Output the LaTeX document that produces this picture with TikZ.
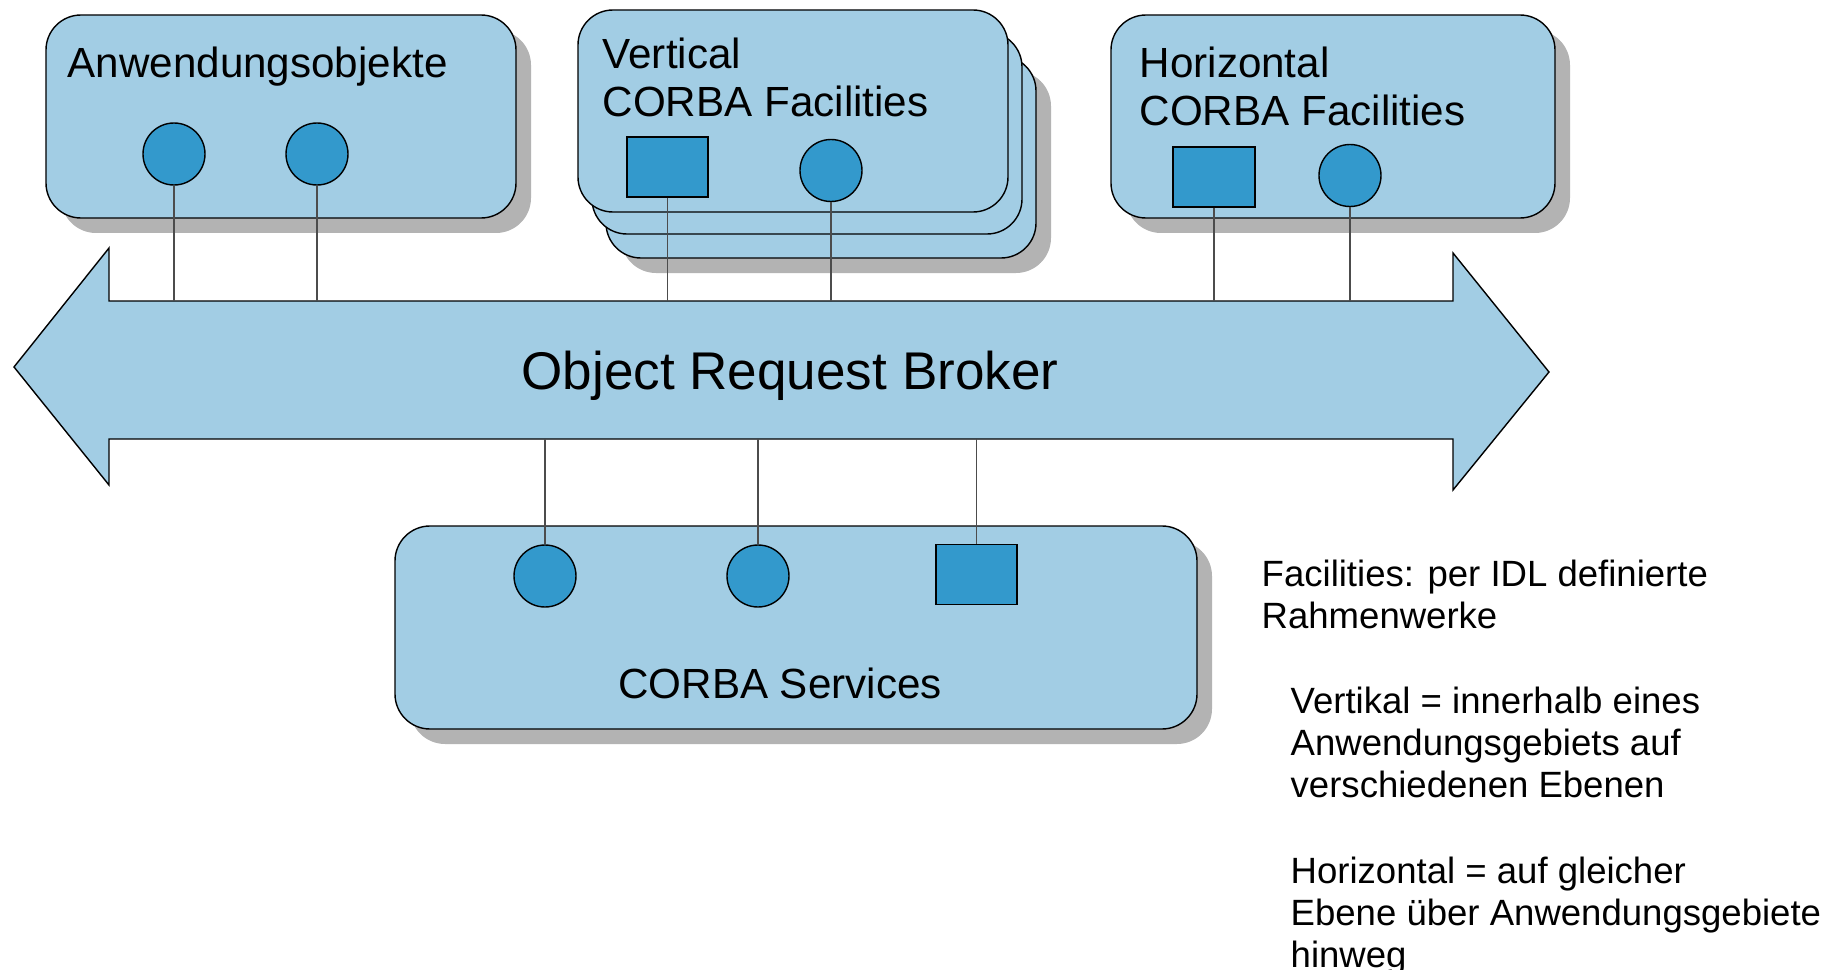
\documentclass[tikz,border=0pt]{standalone}
\usepackage{fontspec}
\setmainfont{Liberation Sans}
\usepackage{tikz}
\usetikzlibrary{shadows}
\definecolor{boxblue}{RGB}{162,205,228}
\definecolor{dotblue}{RGB}{51,153,204}
\definecolor{shadowgray}{RGB}{179,179,179}

\begin{document}
\begin{tikzpicture}[
  panel/.style={rectangle, draw, rounded corners=0.35cm, fill=boxblue, line width=0.4pt, inner sep=0pt},
  shadowed/.style={drop shadow={shadow xshift=0.15cm, shadow yshift=-0.15cm, fill=shadowgray, opacity=1}},
  port/.style={circle, draw, fill=dotblue, minimum size=0.62cm, inner sep=0pt},
  iface/.style={rectangle, draw, fill=dotblue, minimum width=0.81cm, minimum height=0.60cm, inner sep=0pt},
  link/.style={draw, black!70, line width=0.45pt},
  boxtitle/.style={anchor=north west, inner sep=0pt, align=left, font=\fontsize{12}{13.7}\selectfont},
  sidenote/.style={anchor=north west, inner sep=0pt, align=left, font=\fontsize{10.4}{12}\selectfont},
]
  \useasboundingbox (0,0) rectangle (18.46,-9.70);

  % Boxes
  \node[panel, shadowed, minimum width=4.70cm, minimum height=2.03cm] (apps) at (2.81,-1.165) {};
  \node[panel, shadowed, minimum width=4.30cm, minimum height=2.02cm] (vert3) at (8.21,-1.57) {};
  \node[panel, minimum width=4.30cm, minimum height=2.02cm] (vert2) at (8.07,-1.33) {};
  \node[panel, minimum width=4.30cm, minimum height=2.02cm] (vert) at (7.93,-1.11) {};
  \node[panel, shadowed, minimum width=4.44cm, minimum height=2.03cm] (horiz) at (13.33,-1.165) {};
  \node[panel, shadowed, minimum width=8.02cm, minimum height=2.03cm] (serv) at (7.96,-6.275) {};

  % Objects and interfaces
  \node[port] (app1) at (1.74,-1.54) {};
  \node[port] (app2) at (3.17,-1.54) {};
  \node[iface] (vf1) at (6.675,-1.67) {};
  \node[port] (vf2) at (8.31,-1.705) {};
  \node[iface, minimum width=0.82cm] (hf1) at (12.14,-1.77) {};
  \node[port] (hf2) at (13.50,-1.755) {};
  \node[port] (sv1) at (5.45,-5.76) {};
  \node[port] (sv2) at (7.58,-5.76) {};
  \node[iface] (sv3) at (9.765,-5.745) {};

  % ORB
  \draw[fill=boxblue, line width=0.4pt] (0.14,-3.67) -- (1.09,-2.48) -- (1.09,-3.01) -- (14.53,-3.01)
    -- (14.53,-2.53) -- (15.49,-3.72) -- (14.53,-4.90) -- (14.53,-4.39) -- (1.09,-4.39) -- (1.09,-4.85) -- cycle;
  \coordinate (orbtop) at (1.09,-3.01);
  \coordinate (orbbot) at (1.09,-4.39);
  \node[font=\fontsize{15.1}{18}\selectfont, anchor=base] (orb) at (7.90,-3.89) {Object Request Broker};

  % Links to the ORB
  \foreach \n in {app1,app2,vf1,vf2,hf1,hf2}
    \draw[link] (\n.south) -- (\n.south |- orbtop);
  \foreach \n in {sv1,sv2,sv3}
    \draw[link] (\n.north) -- (\n.north |- orbbot);

  % Titles
  \node[boxtitle] (appstitle) at (0.67,-0.46) {Anwendungsobjekte};
  \node[boxtitle] (verttitle) at (6.02,-0.37) {Vertical\\CORBA Facilities};
  \node[boxtitle] (horiztitle) at (11.39,-0.46) {Horizontal\\CORBA Facilities};
  \node[font=\fontsize{12}{14}\selectfont, anchor=base] (servtitle) at (7.80,-6.98) {CORBA Services};

  % Notes
  \node[sidenote] (facnote) at (12.61,-5.59) {Facilities: per IDL definierte\\Rahmenwerke};
  \node[sidenote] (vertnote) at (12.90,-6.86) {Vertikal = innerhalb eines\\Anwendungsgebiets auf\\verschiedenen Ebenen};
  \node[sidenote] (horiznote) at (12.90,-8.56) {Horizontal = auf gleicher\\Ebene über Anwendungsgebiete\\hinweg};
\end{tikzpicture}
\end{document}
